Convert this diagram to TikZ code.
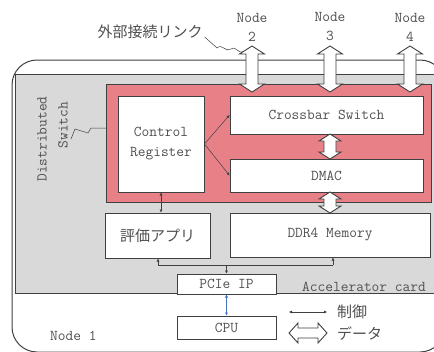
\documentclass[tikz,border=0pt]{standalone}
\usepackage{fontspec}
\newfontfamily\jpfam{Noto Sans CJK JP}
\newcommand\monof{\ttfamily\fontsize{15}{19}\selectfont}
\newcommand\jpf{\jpfam\fontsize{15}{18}\selectfont}
\usetikzlibrary{arrows.meta,calc}
\definecolor{boxline}{RGB}{64,64,64}
\definecolor{pinkbg}{RGB}{232,128,136}
\definecolor{graybg}{RGB}{217,217,217}
\definecolor{txt}{RGB}{80,80,80}
\definecolor{bluearr}{RGB}{68,114,196}
% fat vertical double arrow: x, ytop, ybottom, shaft half, head half, head length
\newcommand\fatV[6]{\draw[fat] (#1,#2) -- (#1+#5,#2+#6) -- (#1+#4,#2+#6) -- (#1+#4,#3-#6) -- (#1+#5,#3-#6) -- (#1,#3) -- (#1-#5,#3-#6) -- (#1-#4,#3-#6) -- (#1-#4,#2+#6) -- (#1-#5,#2+#6) -- cycle;}
% fat horizontal double arrow: y, xleft, xright, shaft half, head half, head length
\newcommand\fatH[6]{\draw[fat] (#2,#1) -- (#2+#6,#1-#5) -- (#2+#6,#1-#4) -- (#3-#6,#1-#4) -- (#3-#6,#1-#5) -- (#3,#1) -- (#3-#6,#1+#5) -- (#3-#6,#1+#4) -- (#2+#6,#1+#4) -- (#2+#6,#1+#5) -- cycle;}
\begin{document}
\begin{tikzpicture}[x=1pt,y=-1pt,
  box/.style={draw=boxline, fill=white, line width=1pt, inner sep=0pt, font=\monof, text=txt, align=center},
  thinarr/.style={draw=boxline, line width=0.5pt},
  tip/.style={-{Latex[length=3pt,width=3pt]}},
  dbl/.style={{Latex[length=3pt,width=3pt]}-{Latex[length=3pt,width=3pt]}},
  fat/.style={draw=boxline, fill=white, line width=0.9pt, line join=miter},
  lbl/.style={font=\monof, text=txt, inner sep=0pt, align=center},
  jlbl/.style={font=\jpf, text=txt, inner sep=0pt}]
\path[use as bounding box, clip] (0,0) rectangle (434,351);
\fill[white] (0,0) rectangle (434,351);
% Node 1 outer frame
\draw[draw=boxline, line width=1pt, rounded corners=25pt] (12,60) rectangle (445,352);
% Accelerator card
\draw[draw=boxline, fill=graybg, line width=0.8pt] (15,74) rectangle (445,293);
% Distributed switch
\draw[draw=boxline, fill=pinkbg, line width=0.8pt] (106,84) rectangle (431,202);
% boxes
\node[box, minimum width=86pt, minimum height=96pt] (cr) at (161,144) {Control\\[1pt]Register};
\node[box, minimum width=193pt, minimum height=38pt] (cross) at (326.5,115) {Crossbar Switch};
\node[box, minimum width=193pt, minimum height=33pt] (dmac) at (326.5,175.5) {DMAC};
\node[box, minimum width=200pt, minimum height=44pt] (ddr) at (330,235) {DDR4 Memory};
\node[box, minimum width=105pt, minimum height=45pt, font=\jpf] (eval) at (157.5,235.5) {評価アプリ};
\node[box, minimum width=99pt, minimum height=20pt] (pcie) at (226.5,284) {PCIe IP};
\node[box, minimum width=99pt, minimum height=23pt] (cpu) at (226.5,327.5) {CPU};
% labels
\node[lbl] (n2) at (252,27) {Node\\2};
\node[lbl] (n3) at (330,27) {Node\\3};
\node[lbl] (n4) at (410,27) {Node\\4};
\node[jlbl] (link) at (150,32) {外部接続リンク};
\node[lbl, rotate=90] (dist) at (42,139) {Distributed};
\node[lbl, rotate=90] (sw) at (63,125) {Switch};
\node[lbl, anchor=west] (acc) at (302,287) {Accelerator card};
\node[lbl, anchor=west] (node1) at (50,336) {Node 1};
\node[jlbl, anchor=west] (ctl) at (337,312) {制御};
\node[jlbl, anchor=west] (dat) at (337,334) {データ};
% leaders
\draw[thinarr] (link.east) ++(2,5) -- (217,48) .. controls (222,43) and (226,53) .. (231,49) .. controls (235,45) and (238,54) .. (244,52);
\draw[thinarr] (71,139) -- (75,129) -- (88,133) -- (91,128) -- (106,128);
% control arrows
\draw[thinarr, tip] (cr.east) -- (cross.west);
\draw[thinarr, tip] (cr.east) -- (dmac.west);
\draw[thinarr, dbl] (cr.south) -- (cr.south |- eval.north);
\coordinate (busL) at (158,265);
\coordinate (busR) at (333,265);
\draw[thinarr] (busL) -- (busR);
\draw[thinarr, tip] (busL) -- (busL |- eval.south);
\draw[thinarr, tip] (busR) -- (busR |- ddr.south);
\draw[thinarr, tip] (busL -| pcie.north) -- (pcie.north);
\draw[thinarr, draw=bluearr, dbl] (pcie.south) -- (cpu.north);
% legend
\coordinate (legA) at (289,312);
\coordinate (legB) at (327,312);
\draw[thinarr, dbl] (legA) -- (legB);
\fatH{333}{289}{327}{5}{10}{9}
% data arrows
\fatV{252}{46}{92}{6}{12.5}{8}
\fatV{330}{46}{92}{6}{12.5}{8}
\fatV{410}{46}{92}{6}{12.5}{8}
\fatV{330}{134}{159}{6}{11}{7}
\fatV{330}{192}{213}{6}{11}{7}
\end{tikzpicture}
\end{document}
